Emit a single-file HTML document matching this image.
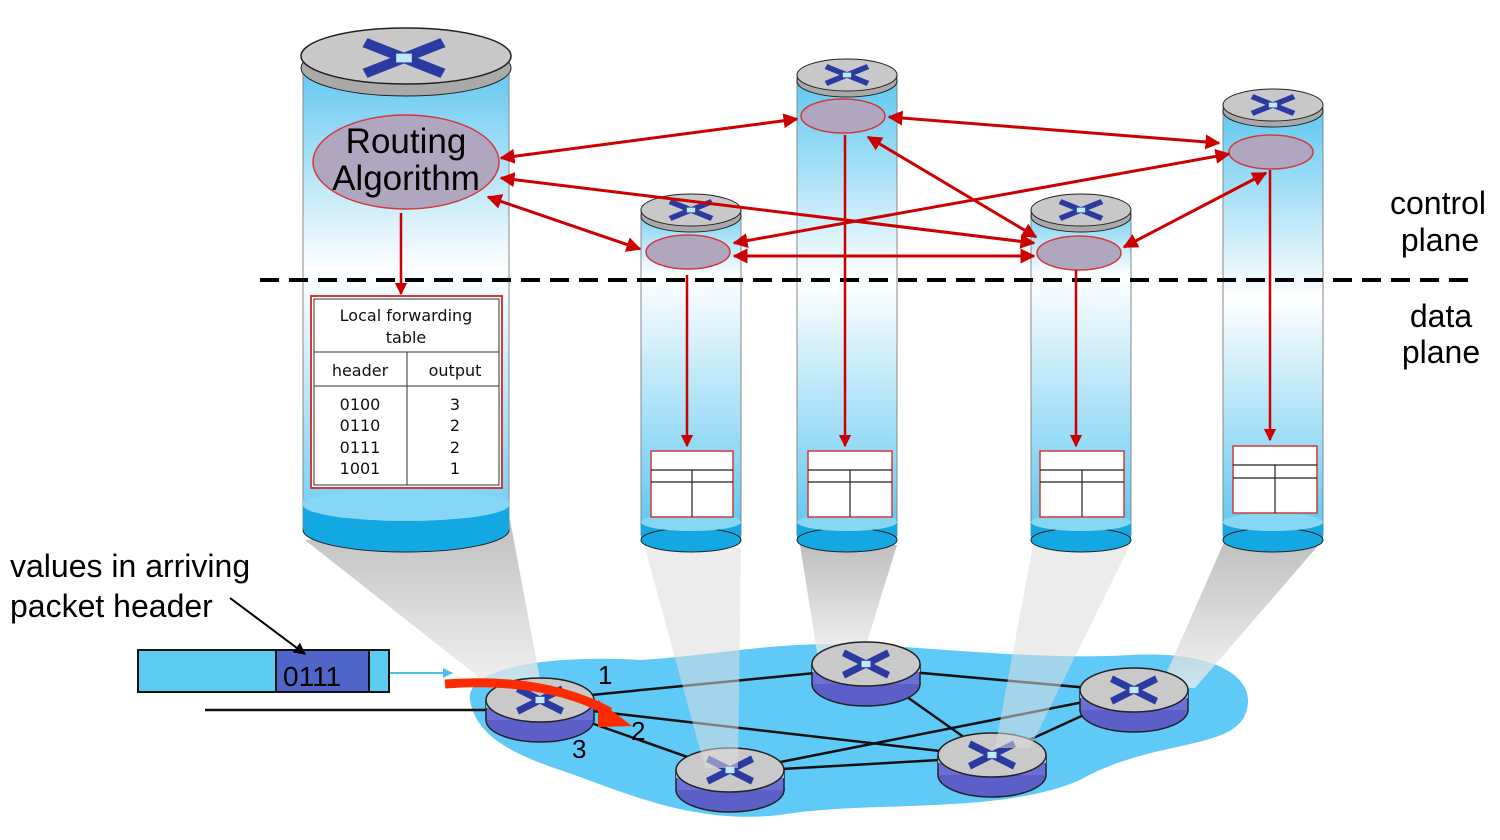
<!DOCTYPE html>
<html><head><meta charset="utf-8"><style>
html,body{margin:0;padding:0;background:#fff;}
svg{display:block;font-family:"Liberation Sans",sans-serif;}
</style></head><body>
<svg width="1500" height="840" viewBox="0 0 1500 840" xmlns="http://www.w3.org/2000/svg">
<defs>
<linearGradient id="g1" x1="0" y1="0" x2="0" y2="1"><stop offset="0" stop-color="#5cc6f0"/><stop offset="0.45" stop-color="#ffffff"/><stop offset="1" stop-color="#6ccbf2"/></linearGradient>
<linearGradient id="g2" x1="0" y1="0" x2="0" y2="1"><stop offset="0" stop-color="#70cdf2"/><stop offset="0.2" stop-color="#ffffff"/><stop offset="1" stop-color="#5cc6f0"/></linearGradient>
<linearGradient id="g3" x1="0" y1="0" x2="0" y2="1"><stop offset="0" stop-color="#5cc6f0"/><stop offset="0.45" stop-color="#ffffff"/><stop offset="1" stop-color="#5cc6f0"/></linearGradient>
<linearGradient id="beam" x1="0" y1="0" x2="0" y2="1"><stop offset="0" stop-color="#aaaaaa"/><stop offset="1" stop-color="#eeeeee"/></linearGradient>
<marker id="ah" viewBox="0 0 10 10" refX="9" refY="5" markerWidth="5" markerHeight="5" orient="auto-start-reverse"><path d="M0,0 L10,5 L0,10 z" fill="#cc0000"/></marker>
<marker id="bk" viewBox="0 0 10 10" refX="9" refY="5" markerWidth="6" markerHeight="6" orient="auto"><path d="M0,0 L10,5 L0,10 z" fill="#000"/></marker>
<marker id="cy" viewBox="0 0 10 10" refX="9" refY="5" markerWidth="5" markerHeight="5" orient="auto"><path d="M0,0 L10,5 L0,10 z" fill="#4fc0ee"/></marker>
<g id="xic"><path d="M-30,-14 L30,14 M30,-14 L-30,14" stroke="#2b3aa0" stroke-width="9" stroke-linecap="butt"/><rect x="-6" y="-4" width="12" height="8" fill="#bfe9f8"/></g>
<g id="router">
 <ellipse cx="0" cy="20" rx="54" ry="22" fill="#5b5fc7" stroke="#222" stroke-width="1.5"/>
 <rect x="-54" y="0" width="108" height="20" fill="#6b70d6"/>
 <line x1="-54" y1="0" x2="-54" y2="20" stroke="#222" stroke-width="1.5"/>
 <line x1="54" y1="0" x2="54" y2="20" stroke="#222" stroke-width="1.5"/>
 <rect x="-54" y="0" width="108" height="8" fill="#79cfe8"/>
 <ellipse cx="0" cy="0" rx="54" ry="22" fill="#c9c9c9" stroke="#222" stroke-width="1.5"/>
 <g transform="scale(0.75,0.8)"><use href="#xic"/></g>
</g>
</defs>

<path d="M470,700 C465,665 560,655 640,660 C720,655 780,640 870,645 C960,650 1050,660 1130,655 C1220,650 1260,680 1245,715 C1230,750 1150,740 1080,780 C1000,815 870,800 780,815 C690,825 620,790 560,770 C500,750 475,730 470,700 Z" fill="#5fc9f8"/>

<g fill="url(#beam)" opacity="0.75">
<polygon points="305,540 510,520 542,690 495,690"/>
<polygon points="800,545 897,545 862,658 818,658"/>
<polygon points="1225,540 1323,540 1195,688 1160,688"/>
</g>

<g stroke="#111" stroke-width="2.5">
<line x1="205" y1="710" x2="500" y2="710"/>
<line x1="540" y1="700" x2="866" y2="668"/>
<line x1="540" y1="705" x2="992" y2="757"/>
<line x1="540" y1="705" x2="730" y2="772"/>
<line x1="866" y1="668" x2="1134" y2="692"/>
<line x1="866" y1="668" x2="992" y2="757"/>
<line x1="730" y1="772" x2="1134" y2="692"/>
<line x1="730" y1="772" x2="992" y2="757"/>
<line x1="992" y1="757" x2="1134" y2="692"/>
</g>
<use href="#router" x="540" y="700"/>
<use href="#router" x="866" y="664"/>
<use href="#router" x="1134" y="690"/>
<use href="#router" x="730" y="770"/>
<use href="#router" x="992" y="755"/>

<g fill="#dddddd" opacity="0.55">
<polygon points="645,548 741,548 738,768 705,768"/>
<polygon points="1033,545 1130,545 1030,748 995,748"/>
</g>

<path d="M445,684 C500,680 560,685 610,712" stroke="#ff2a00" stroke-width="9" fill="none"/>
<polygon points="598,700 632,726 598,727" fill="#ff2a00"/>
<g font-size="26" fill="#000"><text x="598" y="684">1</text><text x="631" y="740">2</text><text x="572" y="758">3</text></g>

<rect x="138" y="650" width="251" height="42" fill="#5ccbf0" stroke="#111" stroke-width="2"/>
<rect x="276" y="650" width="93" height="42" fill="#4f66c8" stroke="#111" stroke-width="2"/>
<text x="283" y="686" font-size="28" fill="#000">0111</text>
<line x1="390" y1="673" x2="452" y2="673" stroke="#4fc0ee" stroke-width="2" marker-end="url(#cy)"/>
<text x="10" y="577" font-size="32">values in arriving</text>
<text x="10" y="617" font-size="32">packet header</text>
<line x1="230" y1="598" x2="305" y2="654" stroke="#000" stroke-width="2" marker-end="url(#bk)"/>

<rect x="303" y="60" width="206" height="470" fill="url(#g1)" stroke="#888" stroke-width="1"/>
<rect x="303" y="500" width="206" height="30" fill="#7fd3f4"/>
<ellipse cx="406" cy="530" rx="103" ry="22" fill="#13a8e2" stroke="#222"/>
<rect x="303" y="505" width="206" height="25" fill="#13a8e2"/>
<ellipse cx="406" cy="505" rx="103" ry="16" fill="#86d6f5"/>
<ellipse cx="406" cy="68" rx="105" ry="28" fill="#a9a9a9" stroke="#222"/>
<ellipse cx="406" cy="56" rx="105" ry="28" fill="#c8c8c8" stroke="#222" stroke-width="1.5"/>
<g transform="translate(404,58) scale(1.3,1.1)"><use href="#xic"/></g>

<g>
<rect x="641" y="210" width="100" height="325" fill="url(#g2)" stroke="#888"/>
<rect x="641" y="520" width="100" height="20" fill="#13a8e2"/>
<ellipse cx="691" cy="540" rx="50" ry="12" fill="#13a8e2" stroke="#222"/>
<ellipse cx="691" cy="522" rx="50" ry="9" fill="#86d6f5"/>
<ellipse cx="691" cy="216" rx="50" ry="16" fill="#a9a9a9" stroke="#222"/>
<ellipse cx="691" cy="210" rx="50" ry="16" fill="#c8c8c8" stroke="#222"/>
<g transform="translate(691,210) scale(0.7,0.6)"><use href="#xic"/></g>
</g>
<g>
<rect x="797" y="75" width="100" height="460" fill="url(#g3)" stroke="#888"/>
<rect x="797" y="520" width="100" height="20" fill="#13a8e2"/>
<ellipse cx="847" cy="540" rx="50" ry="12" fill="#13a8e2" stroke="#222"/>
<ellipse cx="847" cy="522" rx="50" ry="9" fill="#86d6f5"/>
<ellipse cx="847" cy="81" rx="50" ry="16" fill="#a9a9a9" stroke="#222"/>
<ellipse cx="847" cy="75" rx="50" ry="16" fill="#c8c8c8" stroke="#222"/>
<g transform="translate(847,75) scale(0.7,0.6)"><use href="#xic"/></g>
</g>
<g>
<rect x="1031" y="210" width="100" height="325" fill="url(#g2)" stroke="#888"/>
<rect x="1031" y="520" width="100" height="20" fill="#13a8e2"/>
<ellipse cx="1081" cy="540" rx="50" ry="12" fill="#13a8e2" stroke="#222"/>
<ellipse cx="1081" cy="522" rx="50" ry="9" fill="#86d6f5"/>
<ellipse cx="1081" cy="216" rx="50" ry="16" fill="#a9a9a9" stroke="#222"/>
<ellipse cx="1081" cy="210" rx="50" ry="16" fill="#c8c8c8" stroke="#222"/>
<g transform="translate(1081,210) scale(0.7,0.6)"><use href="#xic"/></g>
</g>
<g>
<rect x="1223" y="105" width="100" height="430" fill="url(#g3)" stroke="#888"/>
<rect x="1223" y="520" width="100" height="20" fill="#13a8e2"/>
<ellipse cx="1273" cy="540" rx="50" ry="12" fill="#13a8e2" stroke="#222"/>
<ellipse cx="1273" cy="522" rx="50" ry="9" fill="#86d6f5"/>
<ellipse cx="1273" cy="111" rx="50" ry="16" fill="#a9a9a9" stroke="#222"/>
<ellipse cx="1273" cy="105" rx="50" ry="16" fill="#c8c8c8" stroke="#222"/>
<g transform="translate(1273,105) scale(0.7,0.6)"><use href="#xic"/></g>
</g>

<g fill="#b0a6bf" stroke="#d23a3a" stroke-width="1.5">
<ellipse cx="406" cy="162" rx="93" ry="47"/>
<ellipse cx="688" cy="252" rx="42" ry="17"/>
<ellipse cx="843" cy="116" rx="42" ry="17"/>
<ellipse cx="1079" cy="253" rx="42" ry="17"/>
<ellipse cx="1271" cy="152" rx="42" ry="17"/>
</g>
<text x="406" y="153" font-size="35" text-anchor="middle">Routing</text>
<text x="406" y="190" font-size="35" text-anchor="middle">Algorithm</text>

<line x1="260" y1="280" x2="1470" y2="280" stroke="#000" stroke-width="4" stroke-dasharray="19,10"/>

<g stroke="#cc0000" stroke-width="3" fill="none" marker-start="url(#ah)" marker-end="url(#ah)">
<line x1="501" y1="158" x2="797" y2="119"/>
<line x1="889" y1="117" x2="1219" y2="143"/>
<line x1="501" y1="178" x2="1034" y2="243"/>
<line x1="488" y1="197" x2="640" y2="249"/>
<line x1="734" y1="243" x2="1229" y2="154"/>
<line x1="734" y1="256" x2="1034" y2="256"/>
<line x1="868" y1="137" x2="1036" y2="237"/>
<line x1="1124" y1="247" x2="1266" y2="173"/>
</g>
<g stroke="#cc0000" stroke-width="2.5" fill="none" marker-end="url(#ah)">
<line x1="401" y1="213" x2="401" y2="294"/>
<line x1="687" y1="275" x2="687" y2="446"/>
<line x1="845" y1="135" x2="845" y2="446"/>
<line x1="1076" y1="270" x2="1076" y2="446"/>
<line x1="1270" y1="170" x2="1270" y2="440"/>
</g>

<rect x="311" y="296" width="191" height="192" fill="#fff" stroke="#d43a3a" stroke-width="2"/>
<rect x="314" y="299" width="185" height="186" fill="none" stroke="#333" stroke-width="1"/>
<line x1="314" y1="352" x2="499" y2="352" stroke="#333"/>
<line x1="314" y1="386" x2="499" y2="386" stroke="#333"/>
<line x1="407" y1="352" x2="407" y2="485" stroke="#333"/>
<g font-size="16" text-anchor="middle" fill="#111" font-family="DejaVu Sans, sans-serif">
<text x="406" y="321">Local forwarding</text><text x="406" y="343">table</text>
<text x="360" y="376">header</text><text x="455" y="376">output</text>
<text x="360" y="410">0100</text><text x="360" y="431">0110</text><text x="360" y="453">0111</text><text x="360" y="474">1001</text>
<text x="455" y="410">3</text><text x="455" y="431">2</text><text x="455" y="453">2</text><text x="455" y="474">1</text>
</g>

<g fill="#fff" stroke="#d43a3a" stroke-width="1.5">
<rect x="651" y="451" width="82" height="66"/>
<rect x="808" y="451" width="84" height="66"/>
<rect x="1040" y="451" width="84" height="66"/>
<rect x="1233" y="446" width="84" height="67"/>
</g>
<g stroke="#222" stroke-width="1.2">
<line x1="651" y1="470" x2="733" y2="470"/><line x1="651" y1="482" x2="733" y2="482"/><line x1="692" y1="470" x2="692" y2="517"/>
<line x1="808" y1="470" x2="892" y2="470"/><line x1="808" y1="482" x2="892" y2="482"/><line x1="850" y1="470" x2="850" y2="517"/>
<line x1="1040" y1="470" x2="1124" y2="470"/><line x1="1040" y1="482" x2="1124" y2="482"/><line x1="1082" y1="470" x2="1082" y2="517"/>
<line x1="1233" y1="465" x2="1317" y2="465"/><line x1="1233" y1="478" x2="1317" y2="478"/><line x1="1275" y1="465" x2="1275" y2="513"/>
</g>

<g font-size="32" text-anchor="middle">
<text x="1438" y="214">control</text><text x="1440" y="251">plane</text>
<text x="1441" y="327">data</text><text x="1441" y="363">plane</text>
</g>
</svg>
</body></html>
